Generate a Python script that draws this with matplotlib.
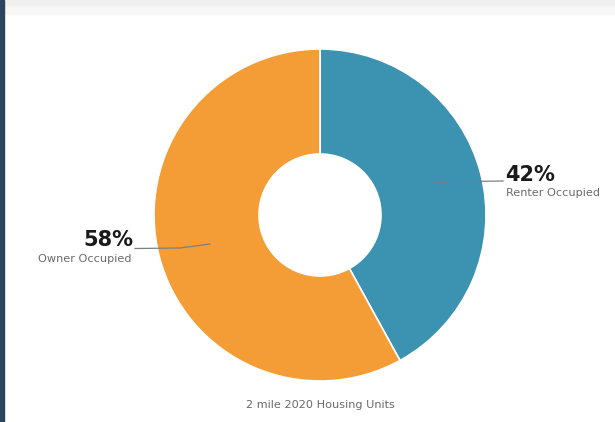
import matplotlib
matplotlib.use("Agg")
import matplotlib.pyplot as plt
from matplotlib.patches import Rectangle

# Housing tenure shares (percent)
categories = ["Renter Occupied", "Owner Occupied"]
shares = [42, 58]
colors = ["#3b93b1", "#f49d36"]
caption = "2 mile 2020 Housing Units"

W, H = 615, 422
fig = plt.figure(figsize=(W / 100, H / 100), dpi=100)
ax = fig.add_axes([0, 0, 1, 1])


def py(y):
    """Convert a top-down pixel row into axis y."""
    return H - y


# page chrome: dark left rule and pale header strip
ax.add_patch(Rectangle((0, 0), 3.5, H, color="#2d4460", zorder=5))
ax.add_patch(Rectangle((3.5, py(14)), W, 14, color="#f7f7f7", zorder=0))
ax.add_patch(Rectangle((3.5, py(5)), W, 5, color="#efefef", zorder=0))

cx, cy, r_out, r_in = 320, py(215), 166, 61
ax.pie(shares, colors=colors, startangle=90, counterclock=False,
       center=(cx, cy), radius=r_out, frame=True,
       wedgeprops=dict(width=r_out - r_in, edgecolor="white", linewidth=1.2))
ax.set_xlim(0, W)
ax.set_ylim(0, H)
ax.set_aspect("equal")
ax.axis("off")

line_col = "#7a7f86"
# leader line for renter share
ax.plot([436, 503], [py(182), py(181)], color=line_col, lw=0.9, zorder=6)
# leader line for owner share
ax.plot([135, 180, 210], [py(248.5), py(248), py(244)], color=line_col, lw=0.9, zorder=6)

pct_font = dict(family="DejaVu Sans", fontweight="bold", fontsize=15, color="#1a1a1a")
lab_font = dict(family="DejaVu Sans", fontsize=8.1, color="#6a6a6a")

ax.text(505, py(181), f"{shares[0]}%", ha="left", va="baseline", **pct_font)
ax.text(506, py(196), categories[0], ha="left", va="baseline", **lab_font)
ax.text(133, py(246.5), f"{shares[1]}%", ha="right", va="baseline", **pct_font)
ax.text(131, py(262), categories[1], ha="right", va="baseline", **lab_font)

ax.text(320, py(408), caption, ha="center", va="baseline", **lab_font)

fig.savefig("out.png", dpi=100)
